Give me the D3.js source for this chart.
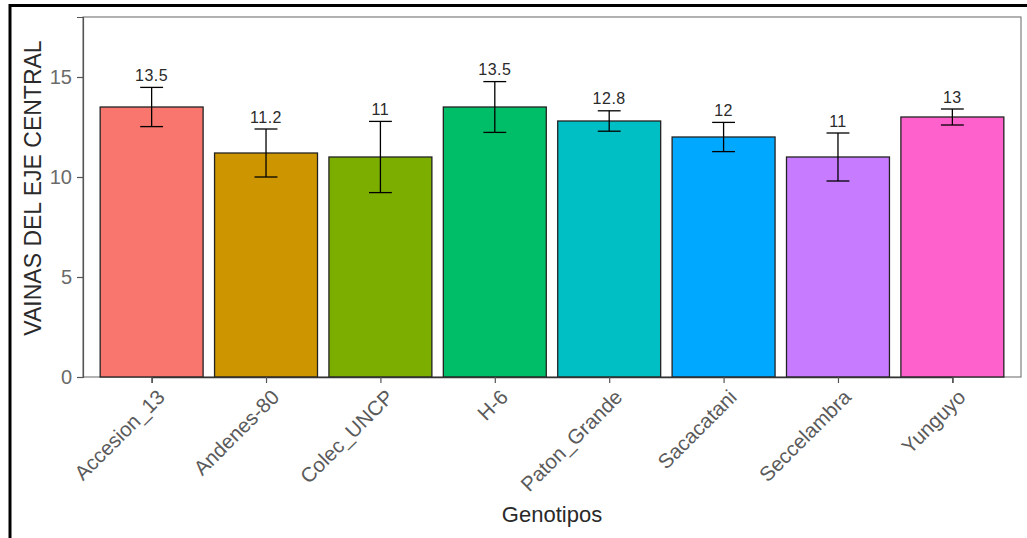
<!DOCTYPE html>
<html><head><meta charset="utf-8">
<script src="https://cdn.jsdelivr.net/npm/d3@7"></script>
<style>body{margin:0;background:#fff}svg{display:block}text{font-family:"Liberation Sans",Arial,sans-serif}</style>
</head><body><svg id="c" width="1027" height="538"></svg>
<script>
const categories = ["Accesion_13","Andenes-80","Colec_UNCP","H-6","Paton_Grande","Sacacatani","Seccelambra","Yunguyo"];
const means = [13.5, 11.2, 11.0, 13.5, 12.8, 12.0, 11.0, 13.0];
const errs = [0.98, 1.2, 1.78, 1.27, 0.51, 0.73, 1.2, 0.4];
const labels = ["13.5","11.2","11","13.5","12.8","12","11","13"];
const colors = ["#F8766D","#CD9600","#7CAE00","#00BE67","#00BFC4","#00A9FF","#C77CFF","#FF61CC"];
const yTicks = [0,5,10,15];

const svg = d3.select("#c");
const L = 83, R = 1021, T = 17, B = 377;
// discrete scale with 0.6 expansion each side
const unit = (R - L) / (categories.length - 1 + 1.2);
const x = d3.scalePoint().domain(categories).range([L + 0.6*unit, R - 0.6*unit]);
const y = d3.scaleLinear().domain([0, 18]).range([B, T]);
const bw = 0.9*unit, ew = 0.2*unit;

// outer border
svg.append("rect").attr("x",10).attr("y",5.5).attr("width",1040).attr("height",560)
  .attr("fill","none").attr("stroke","#000").attr("stroke-width",3);

// panel border
svg.append("rect").attr("x",L).attr("y",T).attr("width",R-L).attr("height",B-T)
  .attr("fill","none").attr("stroke","#7f7f7f").attr("stroke-width",1.2);

const g = svg.append("g");
g.selectAll("rect.bar").data(categories).enter().append("rect")
  .attr("x", d => x(d) - bw/2).attr("width", bw)
  .attr("y", (d,i) => y(means[i])).attr("height", (d,i) => y(0) - y(means[i]))
  .attr("fill", (d,i) => colors[i]).attr("stroke","#222").attr("stroke-width",1.3);

// error bars
categories.forEach((d,i) => {
  const cx = x(d), y1 = y(means[i]+errs[i]), y0 = y(means[i]-errs[i]);
  g.append("line").attr("x1",cx).attr("x2",cx).attr("y1",y1).attr("y2",y0).attr("stroke","#000").attr("stroke-width",1.3);
  g.append("line").attr("x1",cx-ew/2).attr("x2",cx+ew/2).attr("y1",y1).attr("y2",y1).attr("stroke","#000").attr("stroke-width",1.3);
  g.append("line").attr("x1",cx-ew/2).attr("x2",cx+ew/2).attr("y1",y0).attr("y2",y0).attr("stroke","#000").attr("stroke-width",1.3);
  g.append("text").attr("x",cx).attr("y",y1-6.5).attr("text-anchor","middle")
    .attr("font-size",16).attr("letter-spacing",0.5).attr("fill","#2a2a2a").text(labels[i]);
});

// y axis
const ya = svg.append("g").attr("transform",`translate(${L},0)`)
  .call(d3.axisLeft(y).tickValues(yTicks).tickSize(6).tickPadding(5).tickFormat(d3.format("d")));
ya.select(".domain").attr("stroke","#555").attr("stroke-width",1.2);
ya.selectAll(".tick line").attr("stroke","#555").attr("stroke-width",1.2);
ya.selectAll(".tick text").attr("font-size",20).attr("fill","#6a6a6a").attr("font-family","Liberation Sans, Arial, sans-serif");

// x axis
const xa = svg.append("g").attr("transform",`translate(0,${B})`)
  .call(d3.axisBottom(x).tickSize(6).tickFormat(""));
xa.select(".domain").attr("stroke","#333").attr("stroke-width",1.3);
xa.selectAll(".tick line").attr("stroke","#555").attr("stroke-width",1.2);
svg.append("g").selectAll("text").data(categories).enter().append("text")
  .attr("transform", d => `translate(${x(d)+4},${B+11}) rotate(-45)`)
  .attr("text-anchor","end").attr("dy","0.72em")
  .attr("font-size",20.5).attr("fill","#5a5a5a").text(d => d);

// titles
svg.append("text").attr("x",(L+R)/2).attr("y",522).attr("text-anchor","middle")
  .attr("font-size",22).attr("fill","#2a2a2a").text("Genotipos");
svg.append("text").attr("transform",`translate(41,188) rotate(-90)`).attr("text-anchor","middle")
  .attr("font-size",23).attr("fill","#2a2a2a").text("VAINAS DEL EJE CENTRAL");
</script></body></html>
